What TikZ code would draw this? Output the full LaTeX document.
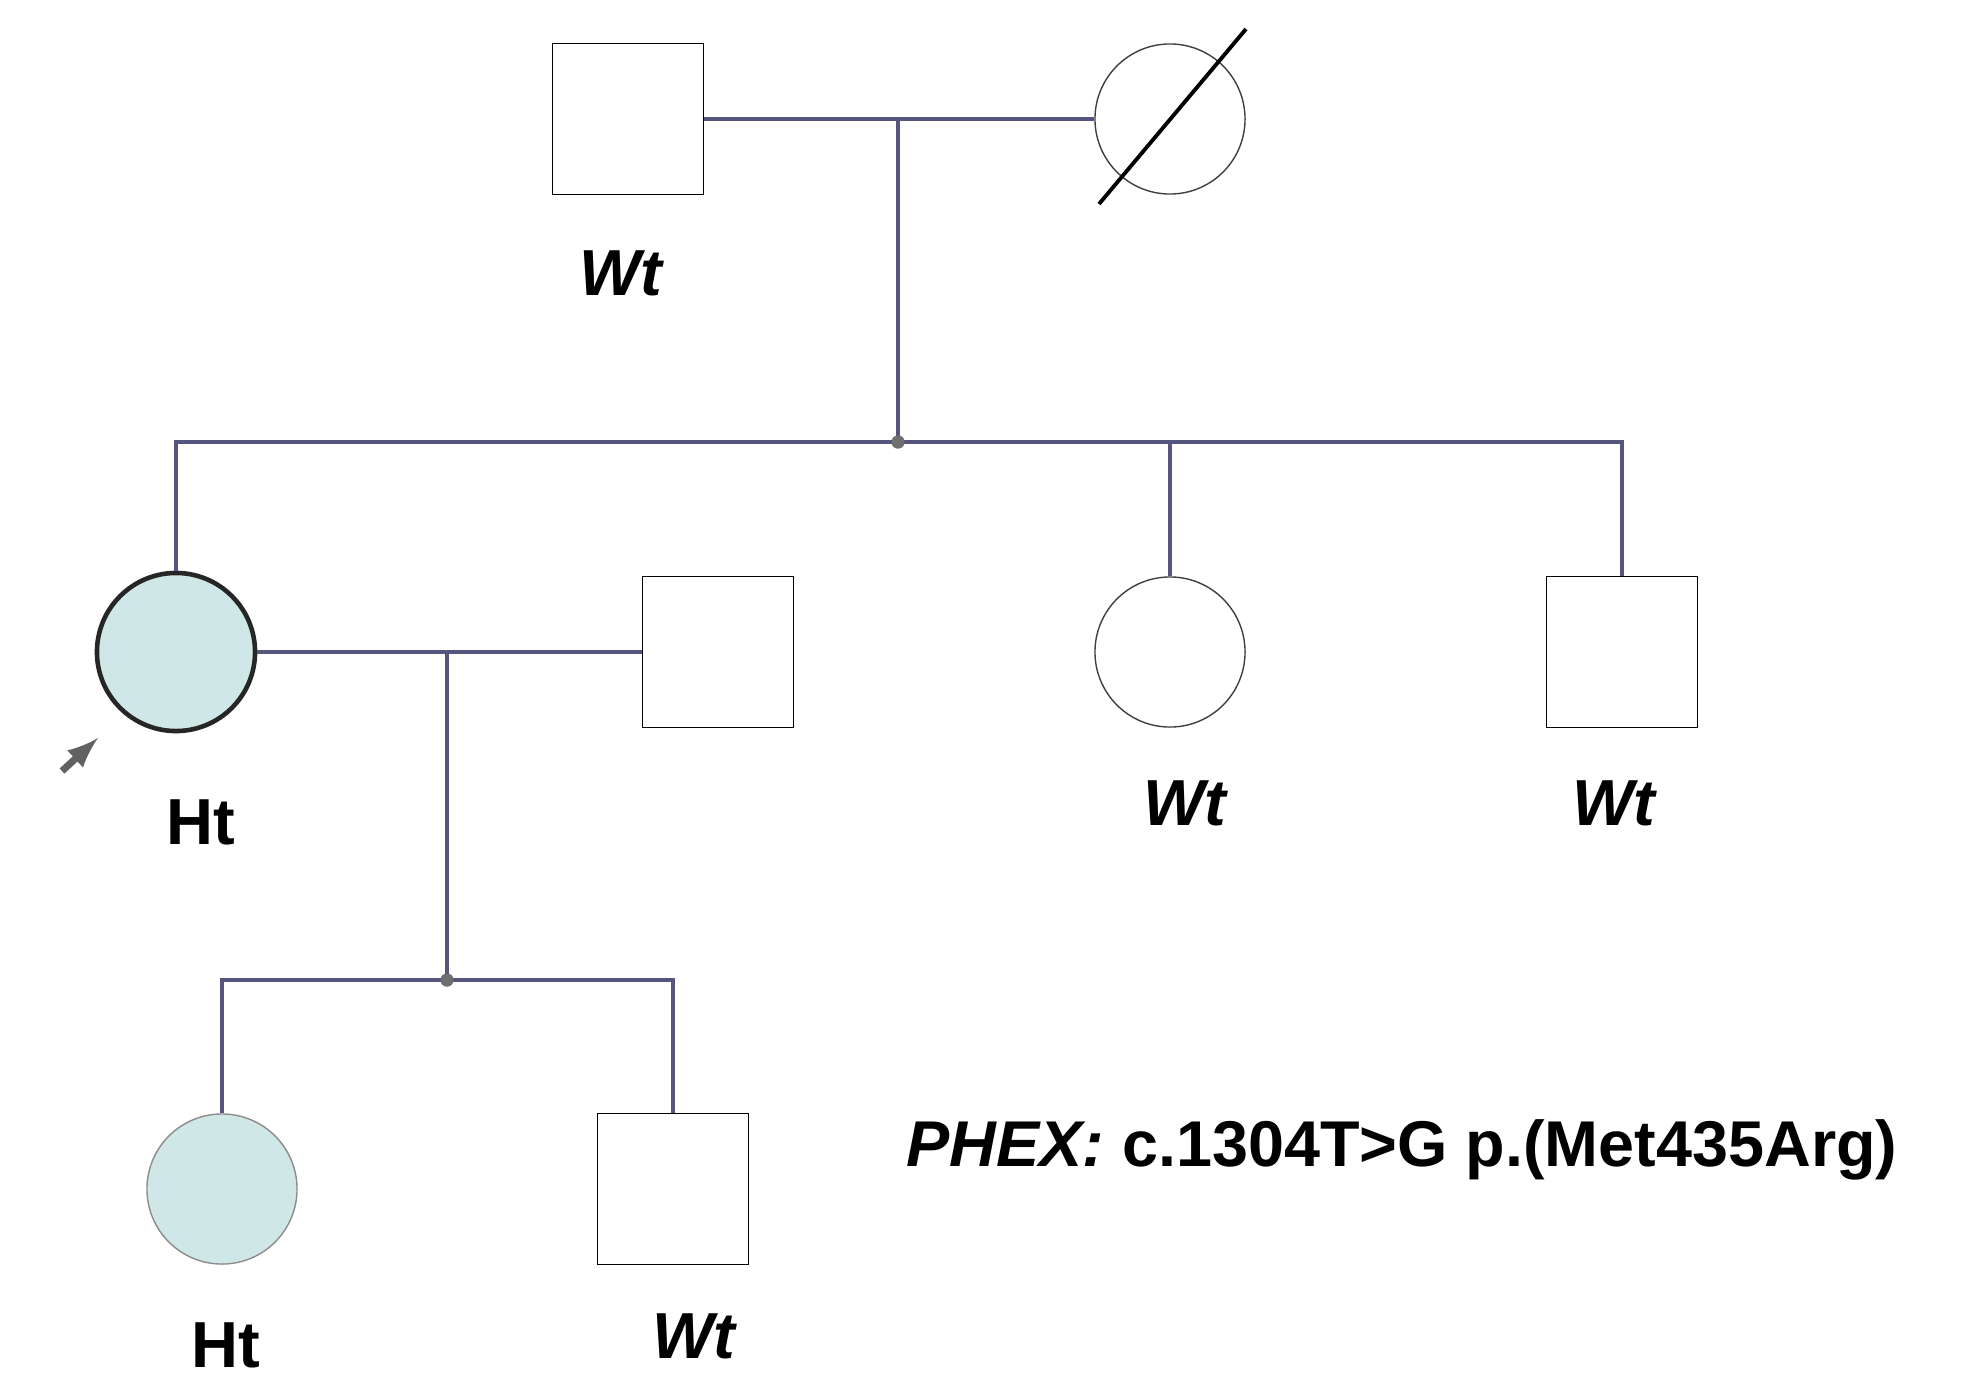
\documentclass[tikz,border=0pt]{standalone}
\usepackage{fontspec}
\setmainfont{Liberation Sans}
\usetikzlibrary{positioning}
\definecolor{kinline}{RGB}{85,85,125}
\definecolor{affect}{RGB}{208,231,231}
\definecolor{dotgray}{RGB}{110,110,110}

\begin{document}
\begin{tikzpicture}[x=0.01cm, y=-0.01cm,
		male/.style={draw, rectangle, minimum size=1.51cm, inner sep=0pt, line width=0.5pt},
		female/.style={draw, circle, minimum size=1.5cm, inner sep=0pt, line width=0.4pt},
		kin/.style={draw=kinline, line width=0.9pt},
		knot/.style={circle, fill=dotgray, minimum size=0.13cm, inner sep=0pt},
		geno/.style={font=\fontsize{18.5}{22}\selectfont\bfseries, anchor=base, inner sep=0pt}]
		\useasboundingbox (0,0) rectangle (1961,1379);
		
		% generation I
		\node[male] (father) at (628,119) {};
		\node[female, draw=black!75] (mother) at (1170,119) {};
		\draw[line width=1.1pt] (1099,204) -- (1246,29);
		\node[geno] (fatherg) at (621,295) {\itshape Wt};
		
		% generation II
		\node[knot] (dot1) at (898,442) {};
		\node[female, fill=affect, draw=black!85, line width=1.3pt, minimum size=1.58cm] (proband) at (176,652) {};
		\node[male] (spouse) at (718,652) {};
		\node[female, draw=black!75] (sis) at (1170,652) {};
		\node[male] (bro) at (1622,652) {};
		\node[geno] (probandg) at (201,844) {Ht};
		\node[geno] (sisg) at (1185,825) {\itshape Wt};
		\node[geno] (brog) at (1614,825) {\itshape Wt};
		\coordinate (ptail) at (62,771);
		\coordinate (phead) at (98,738);
		\draw[-latex, line width=2pt, draw=black!62] (ptail) -- (phead);
		
		% generation III
		\node[knot] (dot2) at (447,980) {};
		\node[female, fill=affect, draw=black!45] (daughter) at (222,1189) {};
		\node[male] (son) at (673,1189) {};
		\node[geno] (daughterg) at (226,1367) {Ht};
		\node[geno] (song) at (694,1358) {\itshape Wt};
		
		% lines of descent
		\draw[kin] (father.east) -- (mother.west);
		\draw[kin] (dot1 |- father.east) -- (dot1.center);
		\draw[kin] (proband.north) -- (proband.north |- dot1) -- (bro.north |- dot1) -- (bro.north);
		\draw[kin] (sis.north |- dot1) -- (sis.north);
		\draw[kin] (proband.east) -- (spouse.west);
		\draw[kin] (dot2 |- proband.east) -- (dot2.center);
		\draw[kin] (daughter.north) -- (daughter.north |- dot2) -- (son.north |- dot2) -- (son.north);
		\node[knot] at (dot1) {};
		\node[knot] at (dot2) {};
		
		\node[anchor=base west, inner sep=0pt, font=\fontsize{18.4}{22}\selectfont\bfseries] (variant) at (906,1166) {\itshape PHEX:\upshape{} c.1304T>G p.(Met435Arg)};
	\end{tikzpicture}
\end{document}
